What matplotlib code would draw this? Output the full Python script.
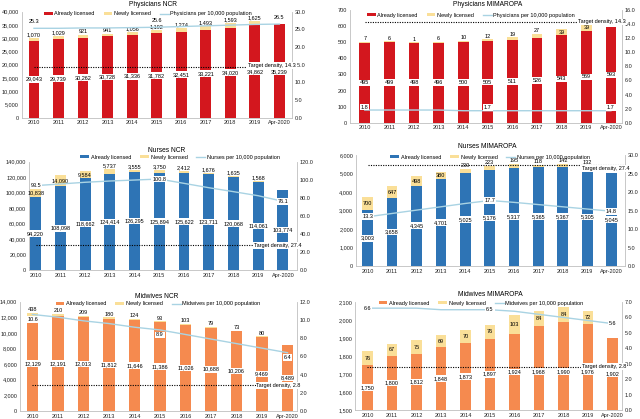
import numpy as np
import matplotlib
matplotlib.use("Agg")
import matplotlib.pyplot as plt
from matplotlib.ticker import FuncFormatter, MultipleLocator

plt.rcParams['font.family'] = ['Liberation Sans', 'DejaVu Sans']

# ---- data ----
years = ['2010', '2011', '2012', '2013', '2014', '2015', '2016', '2017',
         '2018', '2019', 'Apr-2020']

phys_ncr_already = [29043, 29739, 30262, 30728, 31336, 31782, 32451, 33221, 34020, 34862, 35239]
phys_ncr_newly = [1070, 1029, 921, 941, 1056, 1192, 1274, 1493, 1593, 1625]
phys_ncr_density = [25.3, 25.3, 25.4, 25.4, 25.5, 25.6, 25.8, 26.0, 26.2, 26.4, 26.5]

phys_mim_already = [495, 499, 498, 496, 500, 505, 511, 526, 543, 569, 593]
phys_mim_newly = [7, 6, 1, 6, 10, 12, 19, 27, 39, 39]
phys_mim_density = [1.8, 1.8, 1.8, 1.8, 1.7, 1.7, 1.7, 1.7, 1.7, 1.7, 1.7]

nurse_ncr_already = [94220, 108098, 118662, 124414, 126295, 125894, 125622, 123711, 120068, 114061, 103774]
nurse_ncr_newly = [10838, 14090, 9584, 5737, 3555, 3750, 2412, 1676, 1635, 1568]
nurse_ncr_density = [93.5, 95.3, 97.2, 98.6, 99.7, 100.8, 96.0, 91.2, 86.8, 82.3, 76.1]

nurse_mim_already = [3003, 3658, 4345, 4701, 5025, 5176, 5317, 5365, 5367, 5305, 5045]
nurse_mim_newly = [700, 647, 498, 380, 230, 223, 195, 118, 142, 132]
nurse_mim_density = [13.3, 14.2, 15.1, 16.0, 16.9, 17.7, 17.2, 16.6, 16.0, 15.4, 14.8]

mid_ncr_already = [12129, 12191, 12013, 11812, 11646, 11386, 11026, 10688, 10206, 9469, 8489]
mid_ncr_newly = [438, 210, 209, 180, 124, 93, 103, 79, 73, 80]
mid_ncr_density = [10.6, 10.3, 9.9, 9.6, 9.2, 8.9, 8.4, 7.9, 7.4, 6.9, 6.4]

mid_mim_already = [1750, 1800, 1812, 1848, 1873, 1897, 1924, 1968, 1990, 1976, 1902]
mid_mim_newly = [76, 67, 75, 69, 70, 76, 103, 84, 84, 72]
mid_mim_density = [6.6, 6.6, 6.6, 6.5, 6.5, 6.5, 6.4, 6.2, 6.0, 5.8, 5.6]

target_phys = 14.3
target_nurse = 27.4
target_mid = 2.8

RED = '#D3171E'
BLUE = '#2E74B5'
ORANGE = '#F58A4F'
YELLOW = '#FADF98'
LINE = '#A9D3E3'
GREY = '#BFBFBF'
FS = 4.0

W, H = 640, 419
fig = plt.figure(figsize=(W / 100, H / 100), dpi=100)


def rect(l, r, t, b):
    return [l / W, 1 - b / H, (r - l) / W, (b - t) / H]


def panel(box, xlim, title, title_xy, leg_xy, already, newly, density, dens_name,
          target, color, ylim, ystep, y2lim, y2step, dens_dy, target_dy):
    ax = fig.add_axes(rect(*box))
    ax2 = ax.twinx()
    x = np.arange(len(years))
    width = 0.44

    b1 = ax.bar(x, already, width, color=color, label='Already licensed', zorder=2)
    b2 = ax.bar(x[:len(newly)], newly, width, bottom=already[:len(newly)],
                color=YELLOW, label='Newly licensed', zorder=2)

    ax.set_xlim(*xlim)
    ax.set_ylim(*ylim)
    ax.yaxis.set_major_locator(MultipleLocator(ystep))
    ax.yaxis.set_major_formatter(FuncFormatter(lambda v, p: f'{v:,.0f}'))
    ax.set_xticks(x)
    ax.set_xticklabels(years)

    ax2.set_ylim(*y2lim)
    ax2.yaxis.set_major_locator(MultipleLocator(y2step))
    ax2.yaxis.set_major_formatter(FuncFormatter(lambda v, p: f'{v:.1f}'))

    for a in (ax, ax2):
        a.tick_params(length=0, labelsize=FS, pad=2, colors='#222222')
        for s in a.spines.values():
            s.set_color(GREY)
            s.set_linewidth(0.6)
        a.spines['top'].set_visible(False)
    ax.spines['right'].set_visible(False)
    ax2.spines['left'].set_visible(False)
    ax2.spines['bottom'].set_visible(False)

    box_style = dict(boxstyle='square,pad=0.15', fc='white', ec='none')
    px_per_unit = (box[3] - box[2]) / (ylim[1] - ylim[0])

    # already licensed labels: middle of the bar, nudged below the target line when close
    target_left = ylim[0] + (target - y2lim[0]) / (y2lim[1] - y2lim[0]) * (ylim[1] - ylim[0])
    cap = target_left - 4.5 / px_per_unit
    for i, v in enumerate(already):
        y = (ylim[0] + v) / 2
        if abs(y - target_left) * px_per_unit < 6:
            y = min(y, cap)
        ax.text(i, y, f'{v:,}', ha='center', va='center',
                fontsize=FS, bbox=box_style, zorder=4)

    # newly licensed labels: inside the segment if it is tall enough, else on top
    for i, v in enumerate(newly):
        top = already[i] + v
        if v * px_per_unit > 4.5:
            ax.text(i, already[i] + v / 2, f'{v:,}', ha='center', va='center',
                    fontsize=FS, zorder=4)
        else:
            ax.annotate(f'{v:,}', (i, top), xytext=(0, 0.5), textcoords='offset points',
                        ha='center', va='bottom', fontsize=FS, zorder=4)

    # density line
    ln, = ax2.plot(x, density, color=LINE, lw=1.0, label=dens_name, zorder=3)
    for i in (0, 5, len(years) - 1):
        ax2.annotate(f'{density[i]:.1f}', (i, density[i]), xytext=(0, dens_dy * 0.72),
                     textcoords='offset points', ha='center', va='center',
                     fontsize=FS, bbox=box_style, zorder=5)

    # target density
    ax2.hlines(target, 0, xlim[1], colors='black', linestyles=(0, (1, 1.2)), lw=0.8, zorder=3)
    ax2.annotate(f'Target density, {target}', (xlim[1], target),
                 xytext=(3, target_dy * 0.72), textcoords='offset points',
                 ha='right', va='center', fontsize=FS, bbox=box_style, zorder=5)

    fig.text(title_xy[0] / W, 1 - title_xy[1] / H, title, ha='center', va='center',
             fontsize=4.8)
    ax2.legend([b1, b2, ln], ['Already licensed', 'Newly licensed', dens_name],
               loc='center', bbox_to_anchor=(leg_xy[0] / W, 1 - leg_xy[1] / H),
               bbox_transform=fig.transFigure, ncol=3, frameon=False, fontsize=FS,
               handlelength=1.6, handleheight=0.6, handletextpad=0.3,
               columnspacing=1.6, borderpad=0)


panel((21.7, 291.7, 11.7, 117.7), (-0.5, 10.5), 'Physicians NCR', (153, 4), (148, 14),
      phys_ncr_already, phys_ncr_newly, phys_ncr_density, 'Physicians per 10,000 population',
      target_phys, RED, (0, 40000), 5000, (0, 30), 5, 7, 2)

panel((350, 622, 10, 122.7), (-0.6, 10.45), 'Physicians MIMAROPA', (488, 5), (471, 15),
      phys_mim_already, phys_mim_newly, phys_mim_density, 'Physicians per 10,000 population',
      target_phys, RED, (0, 700), 100, (0, 16), 2, 3, 0)

panel((29, 297, 161.7, 270), (-0.27, 10.57), 'Nurses NCR', (167, 150), (180, 157),
      nurse_ncr_already, nurse_ncr_newly, nurse_ncr_density, 'Nurses per 10,000 population',
      target_nurse, BLUE, (0, 140000), 20000, (0, 120), 20, 0, 0)

panel((356, 625, 155, 266), (-0.48, 10.55), 'Nurses MIMAROPA', (487, 146), (490, 157),
      nurse_mim_already, nurse_mim_newly, nurse_mim_density, 'Nurses per 10,000 population',
      target_nurse, BLUE, (0, 6000), 1000, (0, 30), 5, 0, -4)

panel((20, 296.7, 301.7, 411), (-0.49, 10.36), 'Midwives NCR', (157, 296), (158, 304),
      mid_ncr_already, mid_ncr_newly, mid_ncr_density, 'Midwives per 10,000 population',
      target_mid, ORANGE, (0, 14000), 2000, (0, 12), 2, -5, 0)

panel((355, 622, 302, 410), (-0.51, 10.39), 'Midwives MIMAROPA', (490, 295), (481, 303),
      mid_mim_already, mid_mim_newly, mid_mim_density, 'Midwives per 10,000 population',
      target_mid, ORANGE, (1500, 2100), 100, (0, 7), 1, 0, 0)

fig.savefig('out.png', dpi=100)
